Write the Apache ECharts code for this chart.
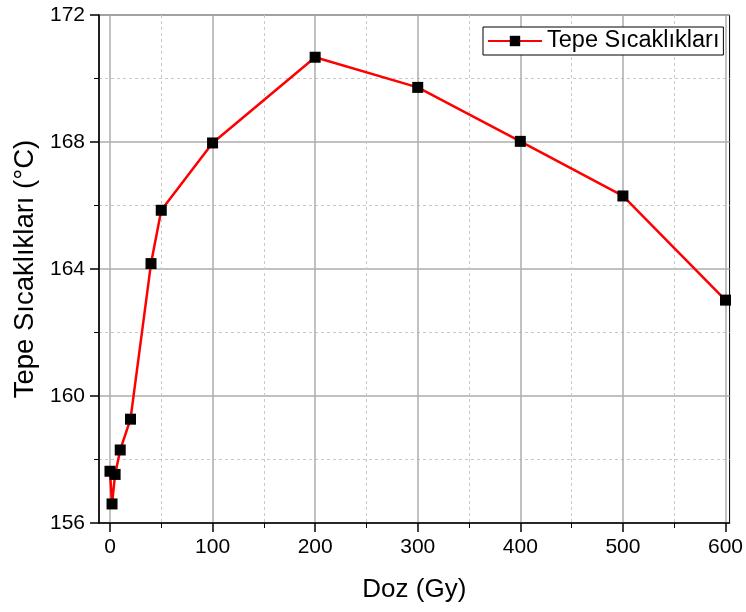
<!DOCTYPE html>
<html>
<head>
<meta charset="utf-8">
<script src="https://cdn.jsdelivr.net/npm/echarts@6/dist/echarts.min.js"></script>
<style>
  html, body { margin: 0; padding: 0; background: #fff; }
  #chart { width: 746px; height: 612px; }
</style>
</head>
<body>
<div id="chart"></div>
<script>
// Peak temperature vs. absorbed dose
const doses = [0, 2, 5, 10, 20, 40, 50, 100, 200, 300, 400, 500, 600];
const peakTemps = [157.63, 156.6, 157.53, 158.3, 159.27, 164.17, 165.85, 167.97, 170.67, 169.72, 168.02, 166.3, 163.02];

const seriesName = 'Tepe Sıcaklıkları';
const xMajorTicks = [0, 100, 200, 300, 400, 500, 600];
const xMinorTicks = [50, 150, 250, 350, 450, 550];
const xRange = [-10.7, 604];
const yRange = [156, 172];
const yStep = 4;

const FONT = '"Liberation Sans", Arial, sans-serif';

const points = doses.map((d, i) => [d, peakTemps[i]]);

const chart = echarts.init(document.getElementById('chart'), null, { renderer: 'canvas' });

chart.setOption({
  animation: false,
  backgroundColor: '#ffffff',
  textStyle: { fontFamily: FONT },
  grid: {
    left: 99, top: 15, width: 634, height: 508,
    show: true, borderColor: '#000', borderWidth: 1, backgroundColor: 'transparent'
  },
  legend: {
    left: 483, top: 27,
    padding: [2, 4, 2, 4],
    itemGap: 5,
    itemWidth: 54, itemHeight: 13,
    borderColor: '#000', borderWidth: 1, borderRadius: 0,
    backgroundColor: '#fff',
    textStyle: { fontFamily: FONT, fontSize: 23.5, color: '#000', padding: [0, 0, 0, 0] },
    data: [seriesName]
  },
  xAxis: [
    {
      type: 'value', min: xRange[0], max: xRange[1],
      name: 'Doz (Gy)', nameLocation: 'middle', nameGap: 54,
      nameTextStyle: { fontFamily: FONT, fontSize: 26, color: '#000' },
      axisLine: { show: true, onZero: false, lineStyle: { color: '#000', width: 1.5 } },
      axisTick: { show: true, inside: false, length: 9, customValues: xMajorTicks,
                  lineStyle: { color: '#000', width: 1.5 } },
      axisLabel: { show: true, customValues: xMajorTicks, margin: 14,
                   fontFamily: FONT, fontSize: 21, color: '#000' },
      splitLine: { show: true, lineStyle: { color: '#adadad', width: 1.5 } }
    },
    {
      type: 'value', min: xRange[0], max: xRange[1], position: 'bottom',
      axisLine: { show: false, onZero: false },
      axisTick: { show: true, inside: false, length: 5, customValues: xMinorTicks,
                  lineStyle: { color: '#000', width: 1 } },
      axisLabel: { show: false, customValues: xMinorTicks },
      splitLine: { show: true, lineStyle: { color: '#c8c8c8', width: 1, type: [3, 3] } }
    }
  ],
  yAxis: {
    type: 'value', min: yRange[0], max: yRange[1], interval: yStep,
    name: 'Tepe Sıcaklıkları (°C)', nameLocation: 'middle', nameGap: 55, nameRotate: 90,
    nameTextStyle: { fontFamily: FONT, fontSize: 27.5, color: '#000' },
    axisLine: { show: true, onZero: false, lineStyle: { color: '#000', width: 1.5 } },
    axisTick: { show: true, inside: false, length: 9, lineStyle: { color: '#000', width: 1.5 } },
    minorTick: { show: true, splitNumber: 2, length: 5, lineStyle: { color: '#000', width: 1 } },
    axisLabel: { margin: 14, fontFamily: FONT, fontSize: 21, color: '#000' },
    splitLine: { show: true, lineStyle: { color: '#adadad', width: 1.5 } },
    minorSplitLine: { show: true, lineStyle: { color: '#c8c8c8', width: 1, type: [3, 3] } }
  },
  series: [{
    name: seriesName,
    type: 'line',
    xAxisIndex: 0,
    data: points,
    symbol: 'rect',
    symbolSize: 11,
    showAllSymbol: true,
    itemStyle: { color: '#000' },
    lineStyle: { color: '#ff0000', width: 2.5 },
    z: 5
  }]
});
</script>
</body>
</html>
